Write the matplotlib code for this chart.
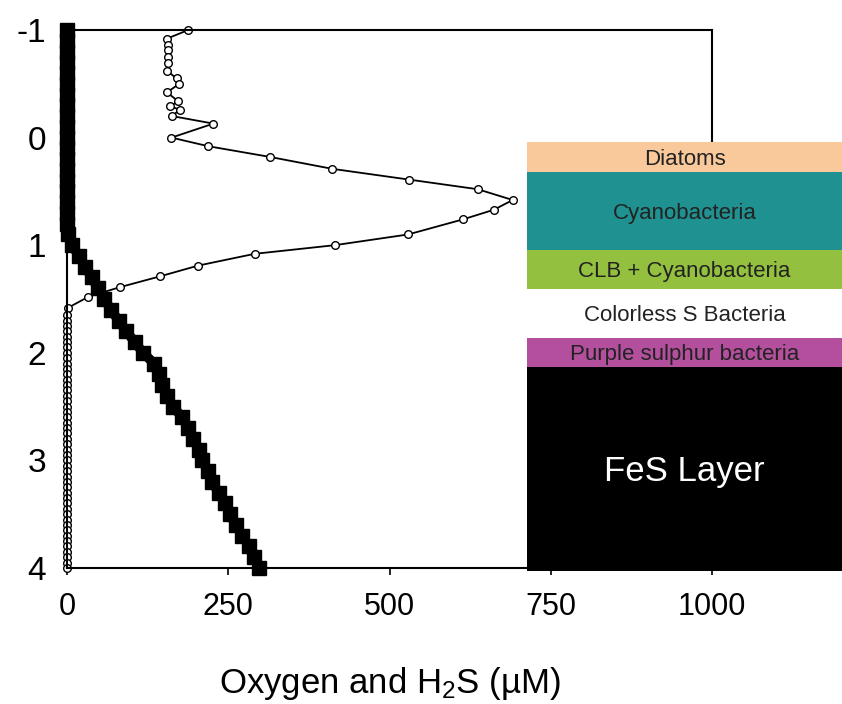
import matplotlib
matplotlib.use("Agg")
import matplotlib.pyplot as plt
from matplotlib.patches import Rectangle

plt.rcParams["font.family"] = ["Liberation Sans", "DejaVu Sans"]
plt.rcParams["axes.unicode_minus"] = False
plt.rcParams["mathtext.fontset"] = "custom"
plt.rcParams["mathtext.rm"] = "Liberation Sans"
plt.rcParams["mathtext.it"] = "Liberation Sans:italic"

# oxygen profile (open circles)
o2_depth = [-1.0, -0.92, -0.86, -0.81, -0.75, -0.69, -0.62, -0.55, -0.5, -0.42,
            -0.34, -0.29, -0.26, -0.2, -0.13, 0.0, 0.08, 0.18, 0.29, 0.39,
            0.48, 0.58, 0.67, 0.76, 0.9, 1.0, 1.08, 1.19, 1.29, 1.39,
            1.48, 1.58, 1.65, 1.7, 1.75, 1.8, 1.85, 1.9, 1.95, 2.0,
            2.05, 2.1, 2.15, 2.2, 2.25, 2.3, 2.35, 2.4, 2.45, 2.5,
            2.55, 2.6, 2.65, 2.7, 2.75, 2.8, 2.85, 2.9, 2.95, 3.0,
            3.05, 3.1, 3.15, 3.2, 3.25, 3.3, 3.35, 3.4, 3.45, 3.5,
            3.55, 3.6, 3.65, 3.7, 3.75, 3.8, 3.85, 3.9, 3.95, 4.0]
o2_conc = [188, 155, 157, 157, 157, 157, 155, 170, 174, 155,
           172, 160, 175, 163, 227, 162, 219, 315, 411, 530,
           637, 691, 662, 614, 529, 415, 291, 203, 144, 82,
           33, 2, 0, 0, 0, 0, 0, 0, 0, 0,
           0, 0, 0, 0, 0, 0, 0, 0, 0, 0,
           0, 0, 0, 0, 0, 0, 0, 0, 0, 0,
           0, 0, 0, 0, 0, 0, 0, 0, 0, 0,
           0, 0, 0, 0, 0, 0, 0, 0, 0, 0]

# sulphide profile (filled squares)
h2s_depth = [-1.0, -0.9, -0.8, -0.7, -0.6, -0.5, -0.4, -0.3, -0.2, -0.1,
             0.0, 0.1, 0.2, 0.3, 0.4, 0.5, 0.6, 0.7, 0.8, 0.9,
             1.0, 1.1, 1.2, 1.3, 1.4, 1.5, 1.6, 1.7, 1.8, 1.9,
             2.0, 2.1, 2.2, 2.3, 2.4, 2.5, 2.6, 2.7, 2.8, 2.9,
             3.0, 3.1, 3.2, 3.3, 3.4, 3.5, 3.6, 3.7, 3.8, 3.9, 4.0]
h2s_conc = [0, 0, 0, 0, 0, 0, 0, 0, 0, 0,
            0, 0, 0, 0, 0, 0, 0, 0, 0, 2,
            8, 18, 28, 38, 48, 58, 68, 80, 92, 105,
            118, 135, 142, 148, 155, 165, 178, 188, 195, 205,
            210, 218, 225, 235, 245, 252, 262, 272, 282, 290, 298]

# mat layers
layer_names = ["Diatoms", "Cyanobacteria", "CLB + Cyanobacteria",
               "Colorless S Bacteria", "Purple sulphur bacteria", "FeS Layer"]
layer_top = [0.04, 0.32, 1.045, 1.41, 1.86, 2.13]
layer_bottom = [0.32, 1.045, 1.41, 1.86, 2.13, 4.03]
layer_colors = ["#F9C99B", "#1F9190", "#93C13F", "#FFFFFF", "#B34F9C", "#000000"]
layer_text_colors = ["#222222", "#222222", "#222222", "#222222", "#222222", "#FFFFFF"]
layer_text_sizes = [16, 16, 16, 16, 16, 25]

fig = plt.figure(figsize=(8.42, 7.04), dpi=100)
ax = fig.add_axes([67 / 842, 1 - 568 / 704, (712 - 67) / 842, (568 - 30) / 704])

ax.plot(h2s_conc, h2s_depth, color="black", lw=7, marker="s", ms=10,
        mfc="black", mec="black", zorder=2, clip_on=False)
ax.plot(o2_conc, o2_depth, color="black", lw=1.3, marker="o", ms=5.5,
        mfc="white", mec="black", mew=1.0, zorder=2.5, clip_on=False)

ax.set_xlim(0, 1000)
ax.set_ylim(4, -1)
ax.set_xticks([0, 250, 500, 750, 1000])
ax.set_yticks([-1, 0, 1, 2, 3, 4])
ax.tick_params(axis="x", direction="out", length=5, width=1.2, pad=12, labelsize=22)
ax.tick_params(axis="y", length=0, pad=15, labelsize=24)
for sp in ax.spines.values():
    sp.set_linewidth(1.5)

ax.set_xlabel("Oxygen and H$_2$S (µM)", fontsize=25)
ax.xaxis.set_label_coords(0.5, -0.18)

x0, x1 = 713, 1202
for name, top, bot, col, tcol, fs in zip(layer_names, layer_top, layer_bottom,
                                          layer_colors, layer_text_colors, layer_text_sizes):
    ax.add_patch(Rectangle((x0, top), x1 - x0, bot - top, facecolor=col,
                           edgecolor="none", clip_on=False, zorder=4))
    ax.text((x0 + x1) / 2, (top + bot) / 2 + 0.02, name, color=tcol, fontsize=fs,
            ha="center", va="center", zorder=5, clip_on=False)

fig.savefig("out.png", dpi=100)
